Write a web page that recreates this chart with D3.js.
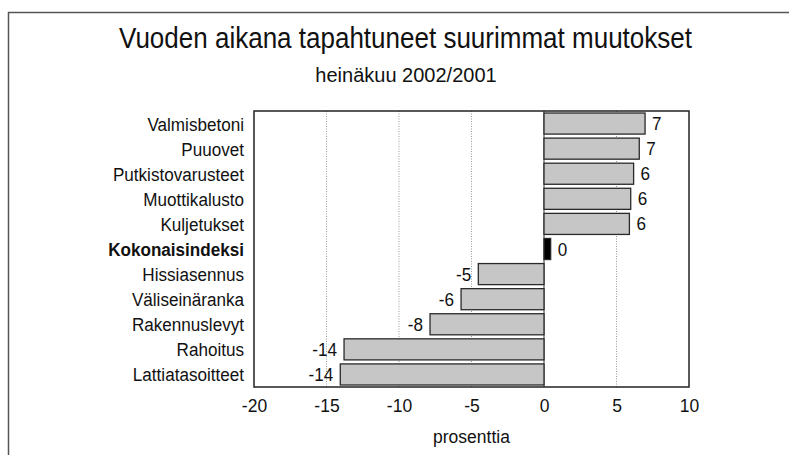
<!DOCTYPE html>
<html>
<head>
<meta charset="utf-8">
<script src="https://cdn.jsdelivr.net/npm/d3@7"></script>
<style>
  body { margin: 0; background: #fff; }
  text { font-family: "Liberation Sans", Arial, sans-serif; fill: #111; }
</style>
</head>
<body>
<script>
var width = 789;
var height = 455;
var margin = {top: 111, right: 100, bottom: 68, left: 254};
var w = 689 - margin.left;
var h = 387 - margin.top;

// rivit ylhäältä alas
var categories = ["Valmisbetoni", "Puuovet", "Putkistovarusteet", "Muottikalusto", "Kuljetukset",
  "Kokonaisindeksi", "Hissiasennus", "Väliseinäranka", "Rakennuslevyt", "Rahoitus", "Lattiatasoitteet"];
var values = [6.97, 6.57, 6.18, 5.98, 5.89, 0.46, -4.53, -5.72, -7.86, -13.79, -14.05];
var valueLabels = ["7", "7", "6", "6", "6", "0", "-5", "-6", "-8", "-14", "-14"];
var tickValues = [-20, -15, -10, -5, 0, 5, 10];
var gridValues = [-15, -10, -5, 5];
var totalName = "Kokonaisindeksi";

var data = categories.map(function(c, i) {
  return {name: c, value: values[i], label: valueLabels[i]};
});

var svg = d3.select("body").append("svg")
    .attr("width", width)
    .attr("height", height);

// ulkokehys
svg.append("rect")
    .attr("x", 8.5)
    .attr("y", 12.5)
    .attr("width", width + 20)
    .attr("height", height + 20)
    .attr("fill", "none")
    .attr("stroke", "#555")
    .attr("stroke-width", 1.5);

svg.append("text")
    .attr("x", 405.5)
    .attr("y", 48)
    .attr("text-anchor", "middle")
    .attr("textLength", 573)
    .attr("lengthAdjust", "spacingAndGlyphs")
    .style("font-size", "29px")
    .text("Vuoden aikana tapahtuneet suurimmat muutokset");

svg.append("text")
    .attr("x", 406)
    .attr("y", 82)
    .attr("text-anchor", "middle")
    .style("font-size", "20px")
    .text("heinäkuu 2002/2001");

var chart = svg.append("g")
    .attr("transform", "translate(" + margin.left + "," + margin.top + ")");

var x = d3.scaleLinear()
    .domain([-20, 10])
    .range([0, w]);

var y = d3.scaleBand()
    .domain(categories)
    .range([0, h])
    .paddingInner(0.16)
    .paddingOuter(0.08);

// pisteviivat
chart.selectAll(".grid")
    .data(gridValues)
  .enter().append("line")
    .attr("class", "grid")
    .attr("x1", function(d) { return x(d); })
    .attr("x2", function(d) { return x(d); })
    .attr("y1", 0)
    .attr("y2", h)
    .attr("stroke", "#999")
    .attr("stroke-width", 1)
    .attr("stroke-dasharray", "1,1.5");

chart.append("line")
    .attr("x1", x(0))
    .attr("x2", x(0))
    .attr("y1", 0)
    .attr("y2", h)
    .attr("stroke", "#333")
    .attr("stroke-width", 1);

chart.selectAll(".bar")
    .data(data)
  .enter().append("rect")
    .attr("class", "bar")
    .attr("x", function(d) { return x(Math.min(0, d.value)); })
    .attr("y", function(d) { return y(d.name); })
    .attr("width", function(d) { return Math.abs(x(d.value) - x(0)); })
    .attr("height", y.bandwidth())
    .attr("fill", function(d) { return d.name == totalName ? "#000" : "#c6c6c6"; })
    .attr("stroke", "#2a2a2a")
    .attr("stroke-width", 1.3);

chart.selectAll(".val")
    .data(data)
  .enter().append("text")
    .attr("class", "val")
    .attr("transform", function(d) {
      var px = d.value < 0 ? x(d.value) - 7 : x(d.value) + 7;
      return "translate(" + px + "," + (y(d.name) + y.bandwidth() / 2 + 6.5) + ") scale(0.95,1)";
    })
    .attr("text-anchor", function(d) { return d.value < 0 ? "end" : "start"; })
    .style("font-size", "18px")
    .text(function(d) { return d.label; });

// kategoriat
chart.selectAll(".cat")
    .data(data)
  .enter().append("text")
    .attr("class", "cat")
    .attr("transform", function(d) {
      return "translate(-10," + (y(d.name) + y.bandwidth() / 2 + 7) + ") scale(0.9,1)";
    })
    .attr("text-anchor", "end")
    .style("font-size", "19px")
    .style("font-weight", function(d) { return d.name == totalName ? "bold" : "normal"; })
    .text(function(d) { return d.name; });

chart.append("rect")
    .attr("x", 0)
    .attr("y", 0)
    .attr("width", w)
    .attr("height", h)
    .attr("fill", "none")
    .attr("stroke", "#222")
    .attr("stroke-width", 1.5);

var xAxis = d3.axisBottom(x)
    .tickValues(tickValues)
    .tickFormat(function(d) { return String(d); })
    .tickSize(0)
    .tickPadding(13);

var gx = chart.append("g")
    .attr("transform", "translate(0," + h + ")")
    .call(xAxis);
gx.select(".domain").remove();
gx.selectAll("text")
    .attr("fill", "#111")
    .style("font-size", "17.5px")
    .style("font-family", "\"Liberation Sans\", Arial, sans-serif");

chart.append("text")
    .attr("x", w / 2)
    .attr("y", h + 56)
    .attr("text-anchor", "middle")
    .style("font-size", "17.5px")
    .text("prosenttia");
</script>
</body>
</html>
